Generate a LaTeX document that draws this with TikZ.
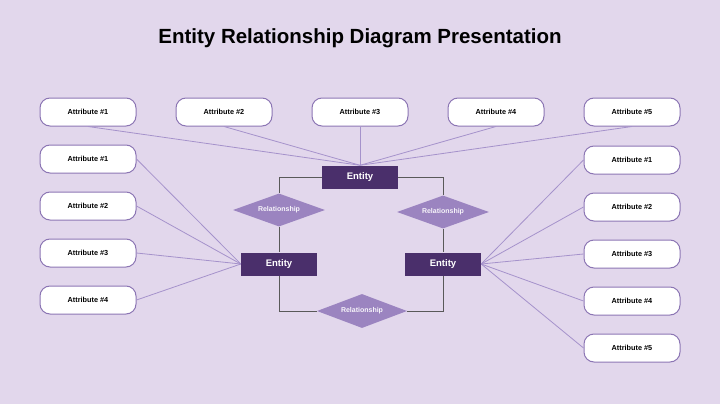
\documentclass[tikz,border=0pt]{standalone}
\usepackage{fontspec}
\setmainfont{Liberation Sans}
\usetikzlibrary{shapes.geometric}
\definecolor{bg}{HTML}{E2D7EC}
\definecolor{ent}{HTML}{4A2F6B}
\definecolor{dia}{HTML}{9B84C0}
\definecolor{ln}{HTML}{A592CB}
\definecolor{pill}{HTML}{8C76B4}
\begin{document}
\begin{tikzpicture}[x=1pt,y=-1pt,
 attr/.style={draw=pill,line width=1pt,fill=white,rounded corners=10pt,minimum width=96pt,minimum height=28pt,inner sep=0pt,font=\fontsize{7.3}{8}\selectfont\bfseries},
 entity/.style={fill=ent,text=white,minimum width=76pt,minimum height=23pt,inner sep=0pt,font=\fontsize{9.5}{10}\selectfont\bfseries},
 rel/.style={diamond,aspect=2.8,fill=dia,text=white!92!dia,inner sep=0pt,minimum width=92pt,minimum height=33pt,font=\fontsize{7}{8}\selectfont\bfseries},
 al/.style={draw=ln,line width=0.8pt},
 fl/.style={draw=black!65,line width=0.9pt}]
\fill[bg] (0,0) rectangle (720,404);
\node[font=\fontsize{20.5}{22}\selectfont\bfseries] (title) at (360,38) {Entity Relationship Diagram Presentation};
\node[entity] (et) at (360,177) {Entity};
\node[entity] (el) at (279,264) {Entity};
\node[entity] (er) at (443,264) {Entity};
\node[rel] (rl) at (279,210) {Relationship};
\node[rel] (rr) at (443,212) {Relationship};
\node[rel,minimum width=90pt,minimum height=34pt] (rb) at (362,311) {Relationship};
\foreach \i/\x in {1/88,2/224,3/360,4/496,5/632}{
 \node[attr] (t\i) at (\x,112) {Attribute \#\i};
 \draw[al] (t\i.south) -- (et.north);}
\foreach \i/\y in {1/159,2/206,3/253,4/300}{
 \node[attr] (l\i) at (88,\y) {Attribute \#\i};
 \draw[al] (l\i.east) -- (el.west);}
\foreach \i/\y in {1/160,2/207,3/254,4/301,5/348}{
 \node[attr] (r\i) at (632,\y) {Attribute \#\i};
 \draw[al] (r\i.west) -- (er.east);}
\draw[fl] (et.west) -| (rl.north);
\draw[fl] (rl.south) -- (el.north);
\draw[fl] (et.east) -| (rr.north);
\draw[fl] (rr.south) -- (er.north);
\draw[fl] (el.south) |- (rb.west);
\draw[fl] (er.south) |- (rb.east);
\end{tikzpicture}
\end{document}
